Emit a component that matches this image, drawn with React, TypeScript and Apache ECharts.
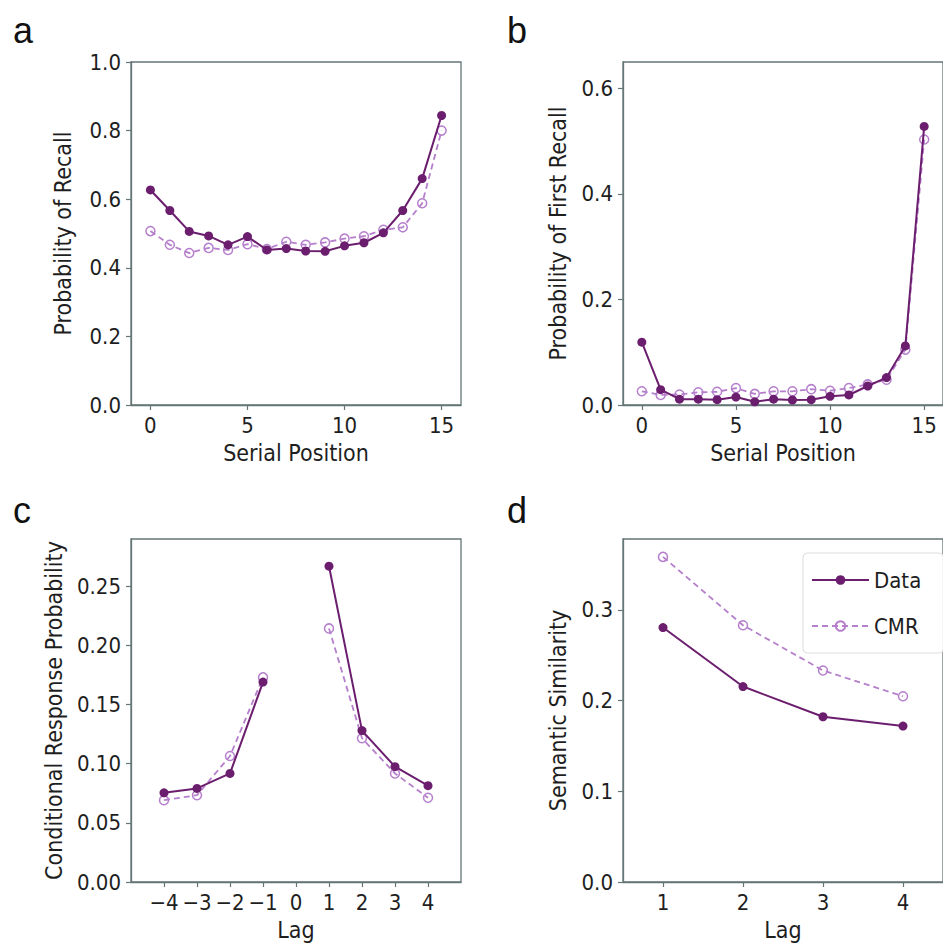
import React, { useEffect, useRef } from "react";
import * as echarts from "echarts";

// ---- data ----
const serialPositions = [0, 1, 2, 3, 4, 5, 6, 7, 8, 9, 10, 11, 12, 13, 14, 15];
const spcData = [0.627, 0.567, 0.506, 0.493, 0.467, 0.491, 0.452, 0.456, 0.449, 0.448, 0.464, 0.473, 0.502, 0.567, 0.66, 0.844];
const spcCMR = [0.507, 0.467, 0.443, 0.458, 0.452, 0.469, 0.455, 0.476, 0.467, 0.474, 0.485, 0.492, 0.511, 0.518, 0.588, 0.8];
const pfrData = [0.119, 0.029, 0.011, 0.011, 0.01, 0.015, 0.006, 0.011, 0.0095, 0.01, 0.0165, 0.019, 0.036, 0.052, 0.112, 0.528];
const pfrCMR = [0.026, 0.019, 0.02, 0.024, 0.025, 0.032, 0.021, 0.026, 0.026, 0.03, 0.027, 0.032, 0.039, 0.048, 0.105, 0.503];
const crpLags = [-4, -3, -2, -1, 0, 1, 2, 3, 4];
const crpData = [0.0754, 0.0791, 0.0918, 0.169, null, 0.267, 0.128, 0.0975, 0.0814];
const crpCMR = [0.0692, 0.0734, 0.1065, 0.173, null, 0.2144, 0.1215, 0.0918, 0.0712];
const semLags = [1, 2, 3, 4];
const semData = [0.2804, 0.2154, 0.1821, 0.1718];
const semCMR = [0.3583, 0.283, 0.2331, 0.2047];

const spcXTicks = [0, 5, 10, 15];
const spcYTicks = [0, 0.2, 0.4, 0.6, 0.8, 1.0];
const pfrYTicks = [0, 0.2, 0.4, 0.6];
const crpXTicks = [-4, -3, -2, -1, 0, 1, 2, 3, 4];
const crpYTicks = [0, 0.05, 0.1, 0.15, 0.2, 0.25];
const semXTicks = [1, 2, 3, 4];
const semYTicks = [0, 0.1, 0.2, 0.3];

const panelLetters = ["a", "b", "c", "d"];

const DATA_COLOR = "#6b1d6e";
const CMR_COLOR = "#b57fcc";
const AXIS_COLOR = "#657676";
const TEXT_COLOR = "#1e1e1e";
const FONT = '"Liberation Sans Narrow", "DejaVu Sans Condensed", "Arial Narrow", sans-serif';

function pairs(xs: number[], ys: (number | null)[]) {
  return xs.map((x, i) => [x, ys[i]]);
}

function makeXAxis(gridIndex: number, min: number, max: number, ticks: number[], name: string, fmt: (v: number) => string) {
  return {
    type: "value",
    gridIndex,
    min,
    max,
    name,
    nameLocation: "middle",
    nameGap: 36,
    nameTextStyle: { fontFamily: FONT, fontSize: 23, color: TEXT_COLOR },
    axisLine: { show: true, onZero: false, lineStyle: { color: AXIS_COLOR, width: 1.3 } },
    axisTick: { show: true, length: 5, customValues: ticks, lineStyle: { color: AXIS_COLOR, width: 1.2 } },
    axisLabel: { customValues: ticks, formatter: fmt, margin: 9, fontFamily: FONT, fontSize: 22, color: TEXT_COLOR },
    splitLine: { show: false },
  };
}

function makeYAxis(gridIndex: number, min: number, max: number, ticks: number[], name: string, digits: number, nameGap: number) {
  return {
    type: "value",
    gridIndex,
    min,
    max,
    name,
    nameLocation: "middle",
    nameGap,
    nameTextStyle: { fontFamily: FONT, fontSize: 23, color: TEXT_COLOR },
    axisLine: { show: true, onZero: false, lineStyle: { color: AXIS_COLOR, width: 1.3 } },
    axisTick: { show: true, length: 5, customValues: ticks, lineStyle: { color: AXIS_COLOR, width: 1.2 } },
    axisLabel: { customValues: ticks, formatter: (v: number) => v.toFixed(digits), margin: 10, fontFamily: FONT, fontSize: 22, color: TEXT_COLOR },
    splitLine: { show: false },
  };
}

function dataSeries(idx: number, data: any[]) {
  return {
    type: "line",
    name: "Data",
    xAxisIndex: idx,
    yAxisIndex: idx,
    data,
    connectNulls: false,
    symbol: "circle",
    symbolSize: 9,
    lineStyle: { color: DATA_COLOR, width: 2 },
    itemStyle: { color: DATA_COLOR },
    z: 3,
  };
}

function cmrSeries(idx: number, data: any[]) {
  return {
    type: "line",
    name: "CMR",
    xAxisIndex: idx,
    yAxisIndex: idx,
    data,
    connectNulls: false,
    symbol: "circle",
    symbolSize: 9,
    lineStyle: { color: CMR_COLOR, width: 1.8, type: [6, 4] },
    itemStyle: { color: "rgba(255,255,255,0)", borderColor: CMR_COLOR, borderWidth: 1.5 },
    z: 2,
  };
}

const minus = (v: number) => (v < 0 ? "\u2212" + Math.abs(v) : String(v));

export default function App() {
  const ref = useRef<HTMLDivElement>(null);
  useEffect(() => {
    const chart = echarts.init(ref.current!, null, { renderer: "svg" });
    const grids = [
      { left: 131, top: 62, width: 330, height: 343 },
      { left: 623, top: 62, width: 330, height: 343 },
      { left: 131, top: 539, width: 330, height: 343 },
      { left: 623, top: 539, width: 330, height: 343 },
    ].map((g) => ({ ...g, show: true, borderColor: AXIS_COLOR, borderWidth: 1.3, backgroundColor: "transparent", containLabel: false }));

    const letterPos = [
      [13, 30],
      [507, 30],
      [13, 510],
      [507, 510],
    ];

    chart.setOption({
      animation: false,
      backgroundColor: "#ffffff",
      grid: grids,
      xAxis: [
        makeXAxis(0, -1, 16, spcXTicks, "Serial Position", (v) => String(v)),
        makeXAxis(1, -1, 16, spcXTicks, "Serial Position", (v) => String(v)),
        makeXAxis(2, -5, 5, crpXTicks, "Lag", minus),
        makeXAxis(3, 0.5, 4.5, semXTicks, "Lag", (v) => String(v)),
      ],
      yAxis: [
        makeYAxis(0, 0, 1.0, spcYTicks, "Probability of Recall", 1, 57),
        makeYAxis(1, 0, 0.65, pfrYTicks, "Probability of First Recall", 1, 54),
        makeYAxis(2, 0, 0.29, crpYTicks, "Conditional Response Probability", 2, 66),
        makeYAxis(3, 0, 0.378, semYTicks, "Semantic Similarity", 1, 54),
      ],
      legend: {
        show: true,
        data: ["Data", "CMR"],
        orient: "vertical",
        left: 803,
        top: 553,
        itemWidth: 57,
        itemHeight: 12,
        itemGap: 24,
        padding: [16, 22, 16, 8],
        backgroundColor: "#ffffff",
        borderColor: "#dddddd",
        borderWidth: 1,
        borderRadius: 4,
        textStyle: { fontFamily: FONT, fontSize: 22, color: TEXT_COLOR, padding: [0, 0, 0, 0] },
        selectedMode: false,
      },
      graphic: panelLetters.map((t, i) => ({
        type: "text",
        x: letterPos[i][0],
        y: letterPos[i][1],
        style: { text: t, fontSize: 36, fontFamily: '"Liberation Sans", Arial, sans-serif', fill: "#111", verticalAlign: "middle", align: "left" },
      })),
      series: [
        cmrSeries(0, pairs(serialPositions, spcCMR)),
        dataSeries(0, pairs(serialPositions, spcData)),
        cmrSeries(1, pairs(serialPositions, pfrCMR)),
        dataSeries(1, pairs(serialPositions, pfrData)),
        cmrSeries(2, pairs(crpLags, crpCMR)),
        dataSeries(2, pairs(crpLags, crpData)),
        cmrSeries(3, pairs(semLags, semCMR)),
        dataSeries(3, pairs(semLags, semData)),
      ],
    });
    return () => chart.dispose();
  }, []);
  return <div ref={ref} style={{ position: "absolute", left: 0, top: 0, width: 943, height: 948, background: "#fff", overflow: "hidden" }} />;
}
